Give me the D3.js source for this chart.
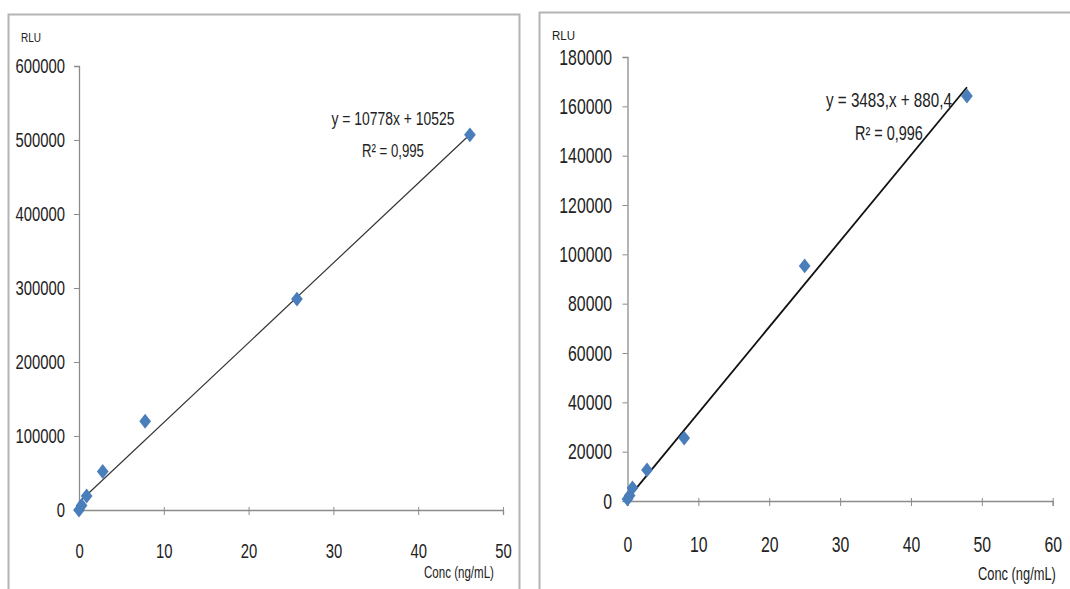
<!DOCTYPE html>
<html><head><meta charset="utf-8">
<script src="https://cdn.jsdelivr.net/npm/d3@7"></script>
<style>
html,body{margin:0;padding:0;background:#fff;}
svg{display:block;}
text{font-family:"Liberation Sans",Arial,sans-serif;fill:#222;}
</style></head><body>
<script>
// ---- data ----
const leftConc = [0, 0.3, 0.9, 2.8, 7.8, 25.7, 46.1];
const leftRLU  = [0, 6000, 19000, 52000, 120000, 285000, 507000];
const leftXTicks = [0, 10, 20, 30, 40, 50];
const leftYTicks = [0, 100000, 200000, 300000, 400000, 500000, 600000];
const leftFit = [10778, 10525];
const leftEq = ["y = 10778x + 10525", "R² = 0,995"];

const rightConc = [0, 0.3, 0.7, 2.75, 8.0, 25.0, 47.9];
const rightRLU  = [800, 2200, 5300, 12600, 25500, 95300, 164200];
const rightXTicks = [0, 10, 20, 30, 40, 50, 60];
const rightYTicks = [0, 20000, 40000, 60000, 80000, 100000, 120000, 140000, 160000, 180000];
const rightFit = [3483, 880.4];
const rightEq = ["y = 3483,x + 880,4", "R² = 0,996"];

const xLabel = "Conc (ng/mL)";
const yLabel = "RLU";

const svg = d3.select("body").append("svg").attr("width", 1070).attr("height", 589);

// panel frames
svg.append("rect").attr("x", 8.5).attr("y", 14.5).attr("width", 511).attr("height", 600)
  .attr("fill", "none").attr("stroke", "#b4b4b4").attr("stroke-width", 2);
svg.append("rect").attr("x", 539.5).attr("y", 12.5).attr("width", 600).attr("height", 600)
  .attr("fill", "none").attr("stroke", "#b4b4b4").attr("stroke-width", 2);

// place a text with its left edge at (x, baseline y), squeezed horizontally to width w
function placeText(g, str, x, y, fs, w) {
  const t = g.append("text").attr("x", 0).attr("y", 0).style("font-size", fs + "px").text(str);
  const w0 = t.node().getComputedTextLength();
  t.attr("transform", `translate(${x},${y}) scale(${w / w0},1)`);
  return t;
}

function panel(cfg) {
  const x = d3.scaleLinear().domain([0, cfg.xTicks[cfg.xTicks.length-1]]).range([cfg.x0, cfg.x1]);
  const y = d3.scaleLinear().domain([0, cfg.yTicks[cfg.yTicks.length-1]]).range([cfg.y0, cfg.y1]);
  const g = svg.append("g");

  const ya = g.append("g").attr("transform", `translate(${cfg.x0},0)`)
    .call(d3.axisLeft(y).tickValues(cfg.yTicks).tickSize(5).tickFormat(d3.format("d")));
  ya.attr("font-family", null);
  ya.select(".domain").attr("stroke", "#8c8c8c").attr("stroke-width", 1.3);
  ya.selectAll(".tick line").attr("stroke", "#8c8c8c");
  ya.selectAll("text").style("font-size", cfg.fs + "px").attr("fill", "#1e1e1e")
    .attr("x", -cfg.ygap / cfg.sx).attr("transform", `scale(${cfg.sx},1.1)`);

  const xa = g.append("g").attr("transform", `translate(0,${cfg.y0})`)
    .call(d3.axisBottom(x).tickValues(cfg.xTicks).tickSize(5).tickPadding(cfg.xpad).tickFormat(d3.format("d")));
  xa.attr("font-family", null);
  xa.select(".domain").attr("stroke", "#8c8c8c").attr("stroke-width", 1.3);
  xa.selectAll(".tick line").attr("stroke", "#8c8c8c").attr("y1", -3);
  xa.selectAll("text").style("font-size", cfg.fs + "px").attr("fill", "#1e1e1e")
    .attr("transform", `scale(${cfg.sx},1.1)`);

  // trendline
  const xmax = d3.max(cfg.conc);
  g.append("line")
    .attr("x1", x(0)).attr("y1", y(cfg.fit[1]))
    .attr("x2", x(xmax)).attr("y2", y(cfg.fit[0] * xmax + cfg.fit[1]))
    .attr("stroke", cfg.lineColor).attr("stroke-width", cfg.lineW);

  // diamonds
  const sym = d3.symbol().type(d3.symbolSquare).size(95);
  g.selectAll("path.pt").data(cfg.conc.map((c, i) => [c, cfg.rlu[i]])).join("path")
    .attr("class", "pt").attr("d", sym)
    .attr("transform", d => `translate(${x(d[0])},${y(d[1])}) scale(0.85,1.08) rotate(45)`)
    .attr("fill", "#4a7ebb");

  // labels
  placeText(g, yLabel, cfg.rluX, cfg.rluY, 13, cfg.rluW);
  placeText(g, xLabel, cfg.xlabX, cfg.xlabY, cfg.xlfs, cfg.xlabW);
  placeText(g, cfg.eq[0], cfg.eqX - cfg.eqW / 2, cfg.eqY, cfg.eqfs, cfg.eqW);
  placeText(g, cfg.eq[1], cfg.eqX - cfg.r2W / 2, cfg.eqY + cfg.eqGap, cfg.eqfs, cfg.r2W);
}

panel({conc: leftConc, rlu: leftRLU, xTicks: leftXTicks, yTicks: leftYTicks, fit: leftFit, eq: leftEq,
  x0: 79, x1: 503, y0: 510, y1: 66, fs: 19, sx: 0.78, ygap: 14, xpad: 25, lineColor: "#333", lineW: 1.2,
  rluX: 21, rluY: 42, rluW: 20, xlabX: 424, xlabY: 578, xlabW: 70, xlfs: 17,
  eqX: 393, eqY: 125, eqW: 123, r2W: 62, eqGap: 32, eqfs: 19});

panel({conc: rightConc, rlu: rightRLU, xTicks: rightXTicks, yTicks: rightYTicks, fit: rightFit, eq: rightEq,
  x0: 627.5, x1: 1052.7, y0: 501, y1: 57, fs: 20, sx: 0.79, ygap: 15.5, xpad: 27, lineColor: "#111", lineW: 1.8,
  rluX: 552, rluY: 40, rluW: 23, xlabX: 978, xlabY: 580, xlabW: 78, xlfs: 18,
  eqX: 889, eqY: 107, eqW: 126, r2W: 68, eqGap: 33, eqfs: 20});
</script>
</body></html>
